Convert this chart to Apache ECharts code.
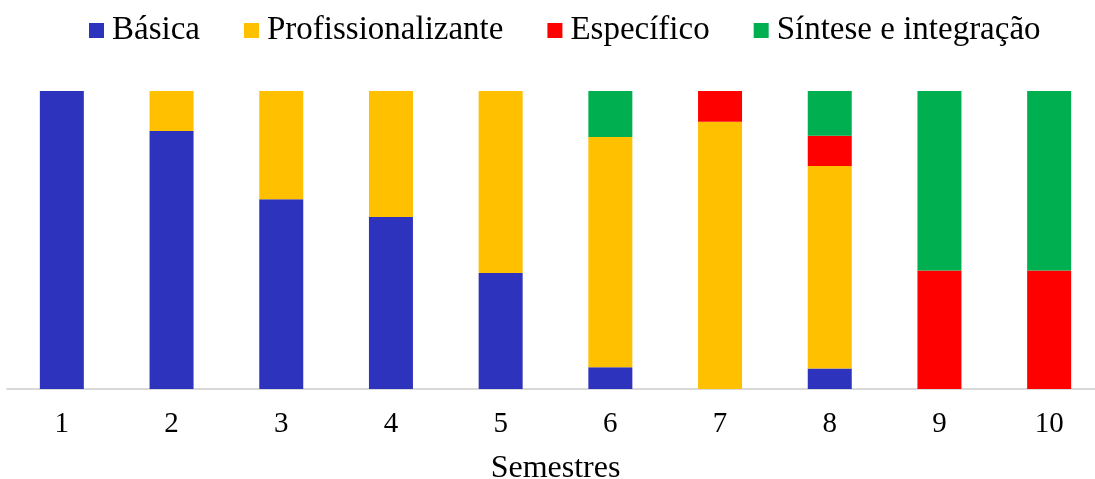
<!DOCTYPE html>
<html>
<head>
<meta charset="utf-8">
<script src="https://cdn.jsdelivr.net/npm/echarts@6/dist/echarts.min.js"></script>
<style>
  html, body { margin: 0; padding: 0; background: #ffffff; }
  #chart { width: 1095px; height: 479px; }
</style>
</head>
<body>
<div id="chart"></div>
<script>
// Share of each course component per semester (%)
const semestres = ['1', '2', '3', '4', '5', '6', '7', '8', '9', '10'];
const basica             = [100, 86.6, 63.7, 57.7, 38.9, 7.3, 0, 6.9, 0, 0];
const profissionalizante = [0, 13.4, 36.3, 42.3, 61.1, 77.3, 89.7, 67.9, 0, 0];
const especifico         = [0, 0, 0, 0, 0, 0, 10.3, 10.2, 39.8, 39.8];
const sintese            = [0, 0, 0, 0, 0, 15.4, 0, 15.0, 60.2, 60.2];

const serif = '"Liberation Serif", "DejaVu Serif", serif';

const makeSeries = (name, data, color) => ({
  name: name,
  type: 'bar',
  stack: 'total',
  barWidth: 44,
  data: data,
  itemStyle: { color: color },
  emphasis: { disabled: true }
});

const chart = echarts.init(document.getElementById('chart'));
chart.setOption({
  animation: false,
  backgroundColor: '#ffffff',
  legend: {
    top: 9,
    left: 84,
    itemWidth: 15,
    itemHeight: 15,
    itemGap: 44,
    icon: 'rect',
    textStyle: { fontFamily: serif, fontSize: 33, color: '#000000', padding: [0, 0, 0, 3] },
    data: ['Básica', 'Profissionalizante', 'Específico', 'Síntese e integração']
  },
  grid: {
    left: 7,
    top: 91,
    width: 1097,
    bottom: 90,
    containLabel: false,
    outerBoundsMode: 'none'
  },
  xAxis: {
    type: 'category',
    data: semestres,
    name: 'Semestres',
    nameLocation: 'middle',
    nameGap: 64,
    nameTextStyle: { fontFamily: serif, fontSize: 32, color: '#000000' },
    axisLine: { lineStyle: { color: '#d9d9d9', width: 2 } },
    axisTick: { show: false },
    axisLabel: { fontFamily: serif, fontSize: 29, color: '#000000', margin: 21 }
  },
  yAxis: {
    type: 'value',
    min: 0,
    max: 100,
    show: false,
    splitLine: { show: false }
  },
  series: [
    makeSeries('Básica', basica, '#2e33bd'),
    makeSeries('Profissionalizante', profissionalizante, '#ffc000'),
    makeSeries('Específico', especifico, '#ff0000'),
    makeSeries('Síntese e integração', sintese, '#00b050')
  ]
});
</script>
</body>
</html>
